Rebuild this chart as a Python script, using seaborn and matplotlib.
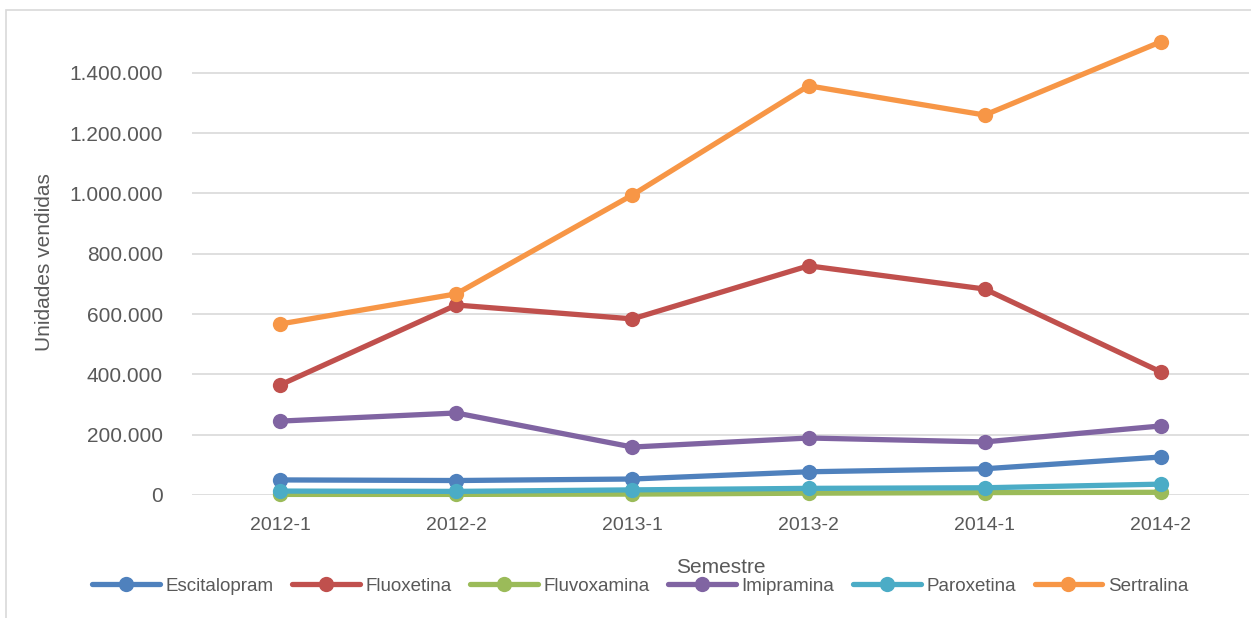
import pandas as pd
import matplotlib.pyplot as plt
import matplotlib.ticker as mticker
import seaborn as sns

# Data
semestres = ["2012-1", "2012-2", "2013-1", "2013-2", "2014-1", "2014-2"]
escitalopram = [50000, 48000, 53000, 77000, 87000, 126000]
fluoxetina = [365000, 630000, 584000, 760000, 683000, 408000]
fluvoxamina = [2000, 2000, 3000, 6000, 8000, 9000]
imipramina = [245000, 272000, 159000, 189000, 176000, 229000]
paroxetina = [13000, 12000, 17000, 22000, 24000, 36000]
sertralina = [567000, 667000, 995000, 1357000, 1260000, 1503000]

series = {
    "Escitalopram": escitalopram,
    "Fluoxetina": fluoxetina,
    "Fluvoxamina": fluvoxamina,
    "Imipramina": imipramina,
    "Paroxetina": paroxetina,
    "Sertralina": sertralina,
}
colors = ["#4F81BD", "#C0504D", "#9BBB59", "#8064A2", "#4BACC6", "#F79646"]

rows = []
for name, vals in series.items():
    for s, v in zip(semestres, vals):
        rows.append({"Semestre": s, "Unidades": v, "Medicamento": name})
df = pd.DataFrame(rows)

sns.set_style("white")
plt.rcParams["font.family"] = ["Liberation Sans", "DejaVu Sans"]
text_color = "#595959"

fig = plt.figure(figsize=(12.51, 6.18), dpi=100)
ax = fig.add_axes([192 / 1251, 123 / 618, 1057 / 1251, 465 / 618])

sns.lineplot(data=df, x="Semestre", y="Unidades", hue="Medicamento",
             palette=colors, marker="o", markersize=11, markeredgewidth=0,
             linewidth=3.8, ax=ax, clip_on=False, legend=True)

ax.set_xlim(-0.5, 5.5)
ax.set_ylim(0, 1542000)
ax.set_yticks(range(0, 1400001, 200000))
ax.yaxis.set_major_formatter(
    mticker.FuncFormatter(lambda v, p: f"{int(v):,}".replace(",", ".")))
ax.grid(axis="y", color="#D9D9D9", linewidth=1.2)
ax.set_axisbelow(True)
for sp in ax.spines.values():
    sp.set_visible(False)
ax.tick_params(axis="both", length=0, colors=text_color)
ax.tick_params(axis="y", pad=21, labelsize=15)
ax.tick_params(axis="x", pad=16, labelsize=14)

ax.set_xlabel("Semestre", fontsize=15, color=text_color, labelpad=17)
ax.set_ylabel("Unidades vendidas", fontsize=15, color=text_color, labelpad=11)

handles, labels = ax.get_legend_handles_labels()
ax.legend(handles, labels, ncol=6, loc="center",
          bbox_to_anchor=(640 / 1251, 1 - 586 / 618),
          bbox_transform=fig.transFigure, frameon=False,
          fontsize=13.5, handlelength=3.6, handletextpad=0.3,
          columnspacing=1.0, labelcolor=text_color)

# chart area border
fig.patches.append(plt.Rectangle((6 / 1251, -0.1), 1.2, 1 - 10 / 618 + 0.1,
                                 transform=fig.transFigure, fill=False,
                                 edgecolor="#D9D9D9", linewidth=1.2))

fig.savefig("out.png", dpi=100)
